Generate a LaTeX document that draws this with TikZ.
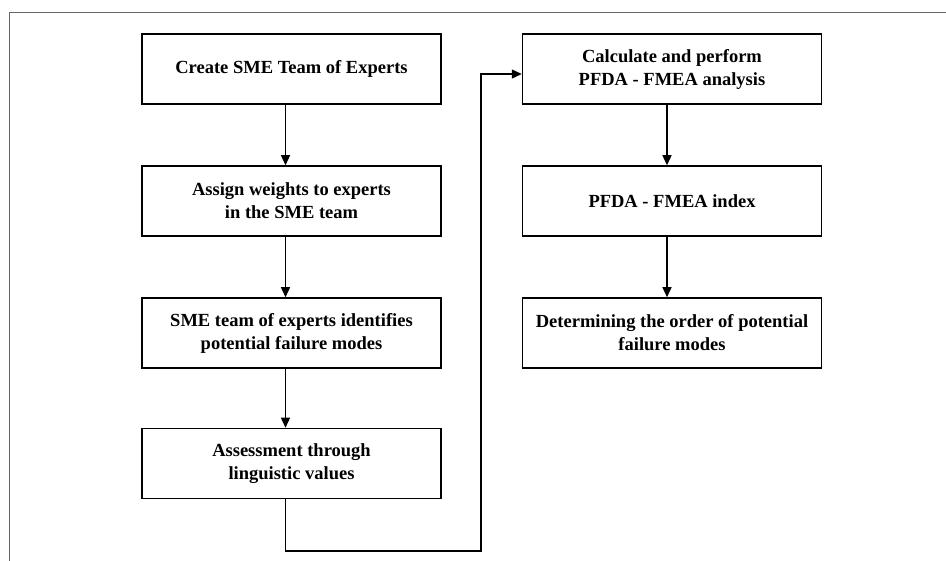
\documentclass[tikz,border=0pt]{standalone}
\usepackage{fontspec}
\setmainfont{Liberation Serif}
\usetikzlibrary{arrows.meta}

\tikzset{
  stepBox/.style={rectangle, draw=black, line width=1.5pt, minimum width=299pt, minimum height=70pt, align=center, inner sep=0pt, font=\fontsize{18.5}{23}\selectfont\bfseries},
  flowArrow/.style={-{Triangle[length=10pt,width=9pt]}, line width=1.3pt},
  frameLine/.style={draw=black!60, line width=0.9pt}
}

\begin{document}
\begin{tikzpicture}[x=1pt,y=1pt]

\useasboundingbox (0,0) rectangle (946,-561);
\draw[frameLine] (9,-561) -- (9,-12) -- (946,-12);

% left column
\node (createTeam) [stepBox] at (291.5,-69) {Create SME Team of Experts};
\node (assignWeights) [stepBox] at (291.5,-201) {Assign weights to experts\\in the SME team};
\node (identifyModes) [stepBox] at (291.5,-333) {SME team of experts identifies\\potential failure modes};
\node (assessLing) [stepBox] at (291.5,-463.5) {Assessment through\\linguistic values};

% right column
\node (calcPfda) [stepBox] at (672,-69) {Calculate and perform\\PFDA - FMEA analysis};
\node (pfdaIndex) [stepBox] at (672,-201) {PFDA - FMEA index};
\node (orderModes) [stepBox] at (672,-333) {Determining the order of potential\\failure modes};

\draw[flowArrow] ([xshift=-6pt]createTeam.south) -- ([xshift=-6pt]assignWeights.north);
\draw[flowArrow] ([xshift=-6pt]assignWeights.south) -- ([xshift=-6pt]identifyModes.north);
\draw[flowArrow] ([xshift=-6pt]identifyModes.south) -- ([xshift=-6pt]assessLing.north);

\coordinate (bendLow) at (481,-551);
\coordinate (bendHigh) at (481,-74);
\draw[flowArrow] ([xshift=-6pt]assessLing.south) |- (bendLow) -- (bendHigh) -- ([yshift=-5pt]calcPfda.west);

\draw[flowArrow] ([xshift=-5pt]calcPfda.south) -- ([xshift=-5pt]pfdaIndex.north);
\draw[flowArrow] ([xshift=-5pt]pfdaIndex.south) -- ([xshift=-5pt]orderModes.north);

\end{tikzpicture}
\end{document}
